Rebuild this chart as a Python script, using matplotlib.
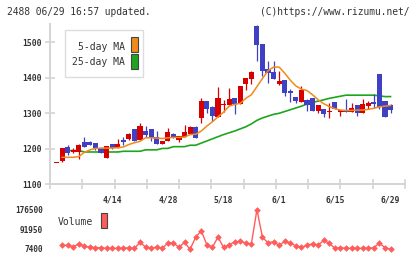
import matplotlib
matplotlib.use("Agg")
import matplotlib.pyplot as plt
from matplotlib.patches import Rectangle

W, H = 420, 259

# ---------------- data ----------------
opens  = [1160, 1167, 1205, 1192, 1190, 1219, 1220, 1216, 1202, 1174,
          1213, 1202, 1225, 1228, 1256, 1225, 1250, 1256, 1233, 1213,
          1222, 1242, 1225, 1233, 1242, 1261, 1287, 1334, 1317, 1289,
          1322, 1323, 1343, 1326, 1382, 1397, 1546, 1495, 1424, 1416,
          1382, 1393, 1362, 1345, 1331, 1337, 1343, 1306, 1312, 1305,
          1331, 1303, 1309, 1303, 1323, 1300, 1320, 1331, 1411, 1334, 1323]
highs  = [1160, 1202, 1210, 1203, 1213, 1233, 1222, 1216, 1202, 1208,
          1213, 1228, 1233, 1244, 1256, 1274, 1264, 1256, 1250, 1222,
          1258, 1245, 1236, 1267, 1263, 1264, 1342, 1334, 1320, 1374,
          1338, 1371, 1343, 1377, 1399, 1420, 1549, 1495, 1447, 1447,
          1419, 1393, 1367, 1345, 1376, 1340, 1343, 1323, 1312, 1329,
          1331, 1309, 1340, 1329, 1323, 1340, 1335, 1355, 1411, 1334, 1326]
lows   = [1160, 1163, 1182, 1189, 1172, 1204, 1210, 1196, 1188, 1174,
          1199, 1202, 1211, 1225, 1222, 1225, 1233, 1221, 1213, 1213,
          1222, 1230, 1219, 1233, 1242, 1230, 1272, 1300, 1278, 1289,
          1303, 1323, 1298, 1326, 1365, 1382, 1447, 1405, 1385, 1397,
          1379, 1348, 1331, 1330, 1331, 1306, 1306, 1300, 1289, 1287,
          1312, 1293, 1303, 1303, 1293, 1300, 1312, 1315, 1313, 1289, 1301]
closes = [1160, 1201, 1187, 1196, 1210, 1206, 1212, 1201, 1188, 1208,
          1202, 1213, 1219, 1242, 1222, 1264, 1239, 1230, 1213, 1222,
          1247, 1233, 1236, 1247, 1261, 1230, 1334, 1312, 1292, 1342,
          1327, 1340, 1326, 1377, 1399, 1416, 1493, 1419, 1413, 1397,
          1390, 1356, 1356, 1334, 1365, 1323, 1306, 1323, 1298, 1307,
          1312, 1309, 1303, 1315, 1300, 1326, 1329, 1327, 1317, 1289, 1309]

ma5 = [None, 1176, 1176, 1176, 1178, 1190, 1197, 1201, 1202, 1202,
       1202, 1203, 1205, 1212, 1217, 1221, 1231, 1231, 1230, 1229,
       1231, 1232, 1232, 1233, 1240, 1241, 1250, 1264, 1276, 1290,
       1303, 1320, 1325, 1328, 1342, 1352, 1375, 1398, 1420, 1430,
       1430, 1413, 1393, 1377, 1368, 1364, 1352, 1338, 1327, 1319,
       1313, 1309, 1308, 1308, 1309, 1309, 1311, 1314, 1318, 1320, 1322]
ma25 = [None, 1195, 1195, 1195, 1195, 1191, 1191, 1191, 1191, 1191,
        1191, 1191, 1193, 1193, 1193, 1193, 1197, 1197, 1197, 1201,
        1201, 1206, 1206, 1206, 1210, 1210, 1216, 1222, 1228, 1234,
        1240, 1245, 1250, 1256, 1262, 1270, 1280, 1287, 1292, 1297,
        1300, 1305, 1310, 1315, 1320, 1326, 1331, 1334, 1338, 1342,
        1345, 1348, 1351, 1351, 1351, 1351, 1351, 1351, 1349, 1347, 1347]

volumes = [22900, 22900, 17260, 28540, 18670, 15850, 13040, 13040, 10220, 10220,
           10220, 10220, 13040, 10220, 35580, 15850, 10220, 15850, 10220, 32760,
           32760, 14450, 35580, 6000, 58120, 84900, 25720, 14450, 58120, 14450,
           25720, 37000, 39810, 32760, 28540, 175070, 56720, 34170, 38400, 22900,
           39810, 32760, 20080, 14450, 22900, 29940, 24310, 44030, 31350, 10220,
           13040, 10220, 10220, 10220, 10220, 10220, 13040, 32760, 13040, 6000]

date_labels = ["4/14", "4/28", "5/18", "6/1", "6/15", "6/29"]
date_label_idx = [10, 20, 30, 40, 50, 60]
price_ticks = [1100, 1200, 1300, 1400, 1500]
vol_ticks = [7400, 91950, 176500]

# ---------------- style ----------------
RED = "#d60000"
BLUE = "#4040c4"
ORANGE = "#f08a1a"
GREEN = "#1ea51e"
GRID = "#d4d4d4"
TXT = "#333333"
VOLC = "#ff5c5c"
MONO = "DejaVu Sans Mono"

fig = plt.figure(figsize=(W / 100, H / 100), dpi=100)
fig.patch.set_facecolor("white")

def fx(x):
    return x / W

def fy(y):
    return 1 - y / H

# main axes (pixel box)
L, R, T, B = 50, 405, 24.5, 184.3
ax = fig.add_axes([fx(L), fy(B), fx(R) - fx(L), fy(T) - fy(B)])
n = len(opens)
x0, x1 = -1.17, 62.6
ax.set_xlim(x0, x1)
ax.set_ylim(1100, 1550)

for sp in ["top", "right"]:
    ax.spines[sp].set_visible(False)
for sp in ["left", "bottom"]:
    ax.spines[sp].set_color(GRID)
    ax.spines[sp].set_linewidth(1.4)

bw = 0.92
for i in range(n):
    o, h, l, c = opens[i], highs[i], lows[i], closes[i]
    col = RED if c >= o else BLUE
    ax.plot([i, i], [l, h], color=col, lw=0.9, solid_capstyle="butt", zorder=3)
    bot, top = min(o, c), max(o, c)
    hgt = max(top - bot, 1.6)
    ax.add_patch(Rectangle((i - bw / 2, bot), bw, hgt, facecolor=col,
                           edgecolor="none", zorder=4))

xs5 = [i for i in range(n) if ma5[i] is not None]
ax.plot(xs5, [ma5[i] for i in xs5], color=ORANGE, lw=1.1, zorder=5)
xs25 = [i for i in range(n) if ma25[i] is not None]
ax.plot(xs25, [ma25[i] for i in xs25], color=GREEN, lw=1.2, zorder=2)

# ticks
ax.set_yticks(price_ticks)
ax.set_yticklabels([str(v) for v in price_ticks], fontfamily=MONO,
                   fontweight="bold", fontsize=5.8, color=TXT)
ax.tick_params(axis="y", direction="inout", length=6.5, width=1.2,
               color=GRID, pad=2.5)
ax.set_xticks(date_label_idx)
ax.set_xticklabels(date_labels, fontfamily=MONO, fontweight="bold",
                   fontsize=5.8, color=TXT)
ax.tick_params(axis="x", which="major", length=0, pad=8)
minor = [x0 + k * (x1 - x0) / 11 for k in range(12)]
ax.set_xticks(minor, minor=True)
ax.tick_params(axis="x", which="minor", direction="inout", length=6.5,
               width=1.2, color=GRID)

# legend box (main)
fig.patches.append(Rectangle((fx(65), fy(77.3)), fx(143.3) - fx(65),
                             fy(30) - fy(77.3), transform=fig.transFigure,
                             facecolor="white", edgecolor="#dddddd", lw=1.0,
                             zorder=10))
fig.text(fx(124.5), fy(46.5), "5-day MA", ha="right", va="center",
         fontfamily=MONO, fontsize=7.0, color=TXT, zorder=11)
fig.text(fx(124.5), fy(62.3), "25-day MA", ha="right", va="center",
         fontfamily=MONO, fontsize=7.0, color=TXT, zorder=11)
fig.patches.append(Rectangle((fx(131.3), fy(52.3)), fx(6.3), fy(37.3) - fy(52.3),
                             transform=fig.transFigure, facecolor=ORANGE,
                             edgecolor="#444444", lw=0.8, zorder=11))
fig.patches.append(Rectangle((fx(131.3), fy(69)), fx(6.3), fy(54.3) - fy(69),
                             transform=fig.transFigure, facecolor=GREEN,
                             edgecolor="#444444", lw=0.8, zorder=11))

# volume axes
VT, VB = 205, 253
axv = fig.add_axes([fx(L), fy(VB), fx(R) - fx(L), fy(VT) - fy(VB)])
axv.set_xlim(x0, x1)
v_per_px = (176500 - 7400) / (249 - 209.3)
axv.set_ylim(7400 - (VB - 249) * v_per_px, 7400 + (249 - VT) * v_per_px)
for sp in axv.spines.values():
    sp.set_visible(False)
axv.set_xticks([])
axv.set_yticks(vol_ticks)
axv.set_yticklabels([str(v) for v in vol_ticks], fontfamily=MONO,
                    fontweight="bold", fontsize=5.6, color=TXT)
axv.tick_params(axis="y", length=0, pad=5)
axv.patch.set_alpha(0)
vx = list(range(1, n))
axv.plot(vx, volumes, color=VOLC, lw=1.0, marker="D", markersize=3.4,
         markeredgewidth=0, zorder=3)

fig.text(fx(58), fy(222), "Volume", ha="left", va="center",
         fontfamily=MONO, fontsize=7.0, color=TXT)
fig.patches.append(Rectangle((fx(101.3), fy(228.3)), fx(6), fy(213.3) - fy(228.3),
                             transform=fig.transFigure, facecolor=VOLC,
                             edgecolor="#444444", lw=0.8))

# header
fig.text(fx(7), fy(12), "2488 06/29 16:57 updated.", ha="left", va="center",
         fontfamily=MONO, fontsize=6.9, color=TXT)
fig.text(fx(409), fy(12), "(C)https://www.rizumu.net/", ha="right", va="center",
         fontfamily=MONO, fontsize=6.9, color=TXT)

fig.savefig("out.png", dpi=100, facecolor="white")
